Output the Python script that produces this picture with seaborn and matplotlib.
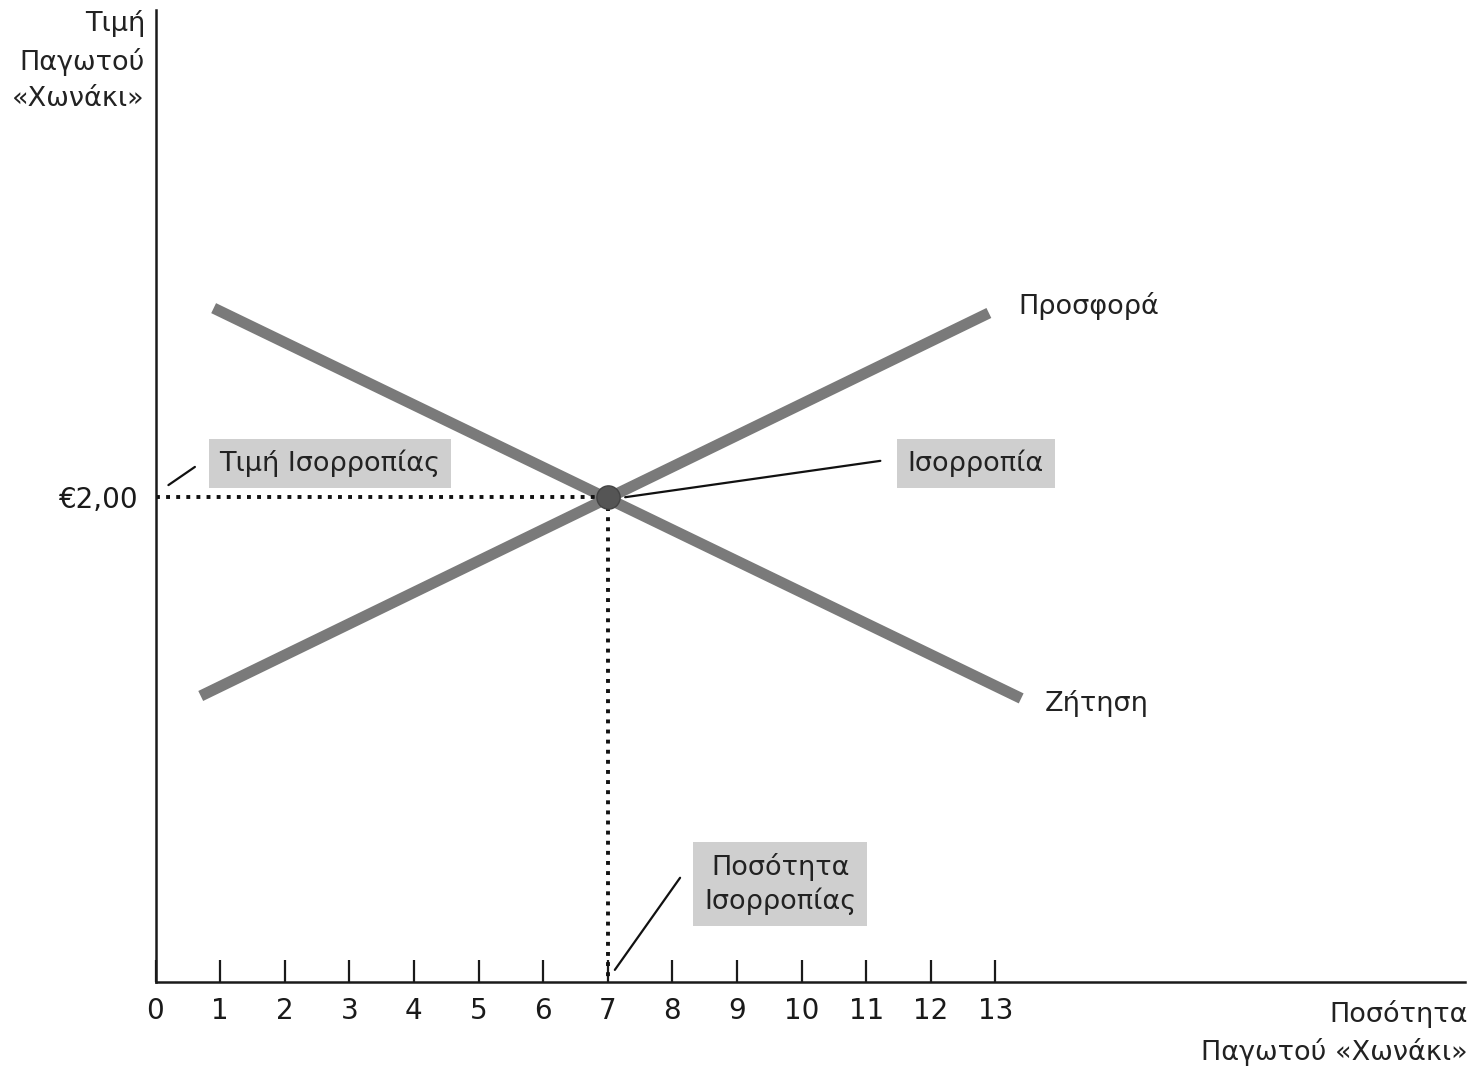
import matplotlib
matplotlib.use("Agg")
import matplotlib.pyplot as plt
import pandas as pd
import seaborn as sns

# values
supply_q = [0.7, 12.9]
supply_p = [1.18, 2.76]
demand_q = [0.9, 13.4]
demand_p = [2.78, 1.17]
eq_q = 7
eq_p = 2.0
x_ticks = list(range(0, 14))
y_tick_label = "€2,00"

GREY_LINE = "#7a7a7a"
BOX_GREY = "#cfcfcf"


def style() -> None:
    sns.set_theme(style="white")
    plt.rcParams.update({
        "font.family": ["DejaVu Sans"],
        "axes.edgecolor": "#1a1a1a",
        "axes.linewidth": 1.8,
        "text.color": "#222222",
    })


def main() -> None:
    style()
    fig = plt.figure(figsize=(14.74, 10.67), dpi=100)
    ax = fig.add_axes([155.5 / 1474, 85 / 1067, 1309.5 / 1474, 972 / 1067])

    df = pd.concat([
        pd.DataFrame({"q": supply_q, "p": supply_p, "curve": "Προσφορά"}),
        pd.DataFrame({"q": demand_q, "p": demand_p, "curve": "Ζήτηση"}),
    ])
    sns.lineplot(data=df, x="q", y="p", units="curve", estimator=None,
                 color=GREY_LINE, lw=8, solid_capstyle="butt",
                 legend=False, ax=ax)

    dots = (0, (1, 1.6))
    ax.plot([0, eq_q], [eq_p, eq_p], color="#111111", lw=2.8, linestyle=dots)
    ax.plot([eq_q, eq_q], [eq_p, 0], color="#111111", lw=2.8, linestyle=dots)
    ax.scatter([eq_q], [eq_p], s=280, color="#555555", zorder=5,
               edgecolor="#444444")

    ax.set_xlim(0, 20.27)
    ax.set_ylim(0, 4.01)
    sns.despine(ax=ax)
    ax.set_xticks(x_ticks)
    ax.set_xticklabels([str(t) for t in x_ticks], fontsize=20)
    ax.tick_params(axis="x", bottom=True, direction="in", length=16,
                   width=1.6, pad=11, colors="#1a1a1a")
    ax.set_yticks([eq_p])
    ax.set_yticklabels([y_tick_label], fontsize=20)
    ax.tick_params(axis="y", left=True, length=0, pad=12, colors="#1a1a1a")
    ax.set_xlabel("")
    ax.set_ylabel("")

    box = dict(boxstyle="square,pad=0.4", fc=BOX_GREY, ec="none")
    ax.text(2.70, 2.14, "Τιμή Ισορροπίας", fontsize=19.5, ha="center",
            va="center", bbox=box)
    ax.plot([0.2, 0.61], [2.05, 2.125], color="#111111", lw=1.6)

    ax.text(12.70, 2.14, "Ισορροπία", fontsize=19.5, ha="center",
            va="center", bbox=box)
    ax.plot([7.27, 11.22], [2.0, 2.15], color="#111111", lw=1.6)

    ax.text(9.67, 0.404, "Ποσότητα\nΙσορροπίας", fontsize=19.5, ha="center",
            va="center", bbox=box, linespacing=1.3)
    ax.plot([7.11, 8.12], [0.05, 0.43], color="#111111", lw=1.6)

    ax.text(13.35, 2.79, "Προσφορά", fontsize=19.5, ha="left", va="center")
    ax.text(13.77, 1.15, "Ζήτηση", fontsize=19.5, ha="left", va="center")

    fig.text(145 / 1474, 1 - 10 / 1067, "Τιμή\nΠαγωτού\n«Χωνάκι»",
             fontsize=19.5, ha="right", va="top", linespacing=1.5)
    fig.text(1468 / 1474, 1 - 1000 / 1067, "Ποσότητα\nΠαγωτού «Χωνάκι»",
             fontsize=19.5, ha="right", va="top", linespacing=1.45)

    fig.savefig("out.png", dpi=100, facecolor="white")
    plt.close(fig)


if __name__ == "__main__":
    main()
